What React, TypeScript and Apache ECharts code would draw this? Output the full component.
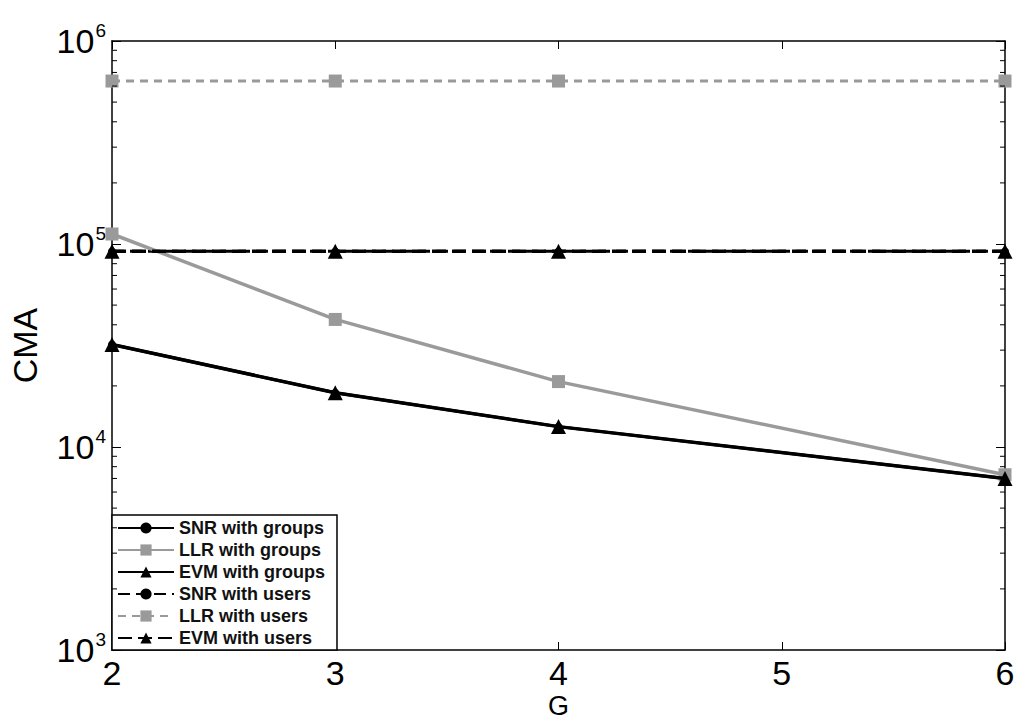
import React, { useEffect, useRef } from "react";
import * as echarts from "echarts";

const G = [2, 3, 4, 6];
const snrGroups = [32000, 18500, 12600, 7000];
const llrGroups = [112000, 42500, 21000, 7300];
const evmGroups = [32000, 18500, 12600, 7000];
const snrUsers = [92000, 92000, 92000, 92000];
const llrUsers = [635000, 635000, 635000, 635000];
const evmUsers = [92000, 92000, 92000, 92000];
const yTicks = [1e3, 1e4, 1e5, 1e6];
const minorVals = [2, 3, 4, 5, 6, 7, 8, 9].flatMap((m) => [1e3, 1e4, 1e5].map((d) => m * d));
const names = [
  "SNR with groups",
  "LLR with groups",
  "EVM with groups",
  "SNR with users",
  "LLR with users",
  "EVM with users",
];

const FONT = "Arial, 'Liberation Sans', Helvetica, sans-serif";
const GRAY = "#9a9a9a";

export default function App() {
  const ref = useRef<HTMLDivElement>(null);
  useEffect(() => {
    const chart = echarts.init(ref.current!, null, { renderer: "svg" });
    const pair = (arr: number[]) => G.map((g, i) => [g, arr[i]]);
    const expOf = (v: number) => Math.round(Math.log10(v));
    chart.setOption({
      animation: false,
      backgroundColor: "#fff",
      grid: { left: 112, right: 12, top: 41, bottom: 70, containLabel: false, outerBoundsMode: "none" },
      textStyle: { fontFamily: FONT },
      legend: {
        data: names,
        orient: "vertical",
        left: 112,
        bottom: 70,
        backgroundColor: "#fff",
        borderColor: "#000",
        borderWidth: 1.5,
        borderRadius: 0,
        padding: [4, 12, 3, 5],
        itemGap: 4,
        itemWidth: 56,
        itemHeight: 14,
        textStyle: { fontFamily: FONT, fontSize: 18, fontWeight: "bold", color: "#111" },
      },
      xAxis: [
        {
          type: "value",
          min: 2,
          max: 6,
          interval: 1,
          name: "G",
          nameLocation: "middle",
          nameMoveOverlap: false,
          nameGap: 42,
          nameTextStyle: { fontFamily: FONT, fontSize: 27, color: "#000", lineHeight: 27 },
          axisLine: { lineStyle: { color: "#000", width: 1.5 } },
          axisTick: { inside: true, length: 8, lineStyle: { color: "#000" } },
          axisLabel: { fontFamily: FONT, fontSize: 34, color: "#000", margin: 6 },
          splitLine: { show: false },
        },
        {
          type: "value",
          position: "top",
          min: 2,
          max: 6,
          interval: 1,
          axisLine: { lineStyle: { color: "#000", width: 1.5 } },
          axisTick: { inside: true, length: 8, lineStyle: { color: "#000" } },
          axisLabel: { show: false },
          splitLine: { show: false },
        },
      ],
      yAxis: [
        {
          type: "log",
          logBase: 10,
          min: yTicks[0],
          max: yTicks[yTicks.length - 1],
          name: "CMA",
          nameLocation: "middle",
          nameMoveOverlap: false,
          nameGap: 70,
          nameTextStyle: { fontFamily: FONT, fontSize: 34, color: "#000" },
          axisLine: { show: true, lineStyle: { color: "#000", width: 1.5 } },
          axisTick: { inside: true, length: 9, lineStyle: { color: "#000" } },
          axisLabel: {
            margin: 6,
            formatter: (v: number) => `{a|10}{b|${expOf(v)}}`,
            rich: {
              a: { fontFamily: FONT, fontSize: 34, color: "#000" },
              b: { fontFamily: FONT, fontSize: 19, color: "#000", padding: [0, 0, 22, 1] },
            },
          },
          splitLine: { show: false },
        },
        {
          type: "log",
          logBase: 10,
          position: "right",
          min: yTicks[0],
          max: yTicks[yTicks.length - 1],
          axisLine: { show: true, lineStyle: { color: "#000", width: 1.5 } },
          axisTick: { inside: true, length: 9, lineStyle: { color: "#000" } },
          axisLabel: { show: false },
          splitLine: { show: false },
        },
      ],
      series: [
        {
          name: names[0],
          type: "line",
          data: pair(snrGroups),
          symbol: "circle",
          symbolSize: 8,
          color: "#000",
          lineStyle: { color: "#000", width: 3 },
          z: 2,
        },
        {
          name: names[3],
          type: "line",
          data: pair(snrUsers),
          symbol: "circle",
          symbolSize: 8,
          color: "#000",
          lineStyle: { color: "#000", width: 3, type: [12, 6] },
          z: 2,
        },
        {
          name: names[1],
          type: "line",
          data: pair(llrGroups),
          symbol: "rect",
          symbolSize: 13,
          color: GRAY,
          lineStyle: { color: GRAY, width: 3.5 },
          z: 3,
        },
        {
          name: names[2],
          type: "line",
          data: pair(evmGroups),
          symbol: "triangle",
          symbolSize: 15,
          color: "#000",
          lineStyle: { color: "#000", width: 3.5 },
          z: 4,
        },
        {
          name: names[4],
          type: "line",
          data: pair(llrUsers),
          symbol: "rect",
          symbolSize: 13,
          color: GRAY,
          lineStyle: { color: GRAY, width: 3, type: [8, 6] },
          z: 3,
        },
        {
          name: names[5],
          type: "line",
          data: pair(evmUsers),
          symbol: "triangle",
          symbolSize: 15,
          color: "#000",
          lineStyle: { color: "#000", width: 3.5, type: [14, 6] },
          z: 4,
        },
        {
          type: "custom",
          silent: true,
          z: 5,
          data: minorVals.map((v) => [2, v]),
          renderItem: (params: any, api: any) => {
            const v = api.value(1);
            const l = api.coord([2, v]);
            const r = api.coord([6, v]);
            const st = { stroke: "#000", lineWidth: 1 };
            return {
              type: "group",
              children: [
                { type: "line", shape: { x1: l[0], y1: l[1], x2: l[0] + 5, y2: l[1] }, style: st },
                { type: "line", shape: { x1: r[0], y1: r[1], x2: r[0] - 5, y2: r[1] }, style: st },
              ],
            };
          },
        },
      ],
    });
    return () => chart.dispose();
  }, []);
  return (
    <div
      ref={ref}
      style={{ position: "absolute", left: 0, top: 0, width: 1017, height: 720 }}
    />
  );
}
